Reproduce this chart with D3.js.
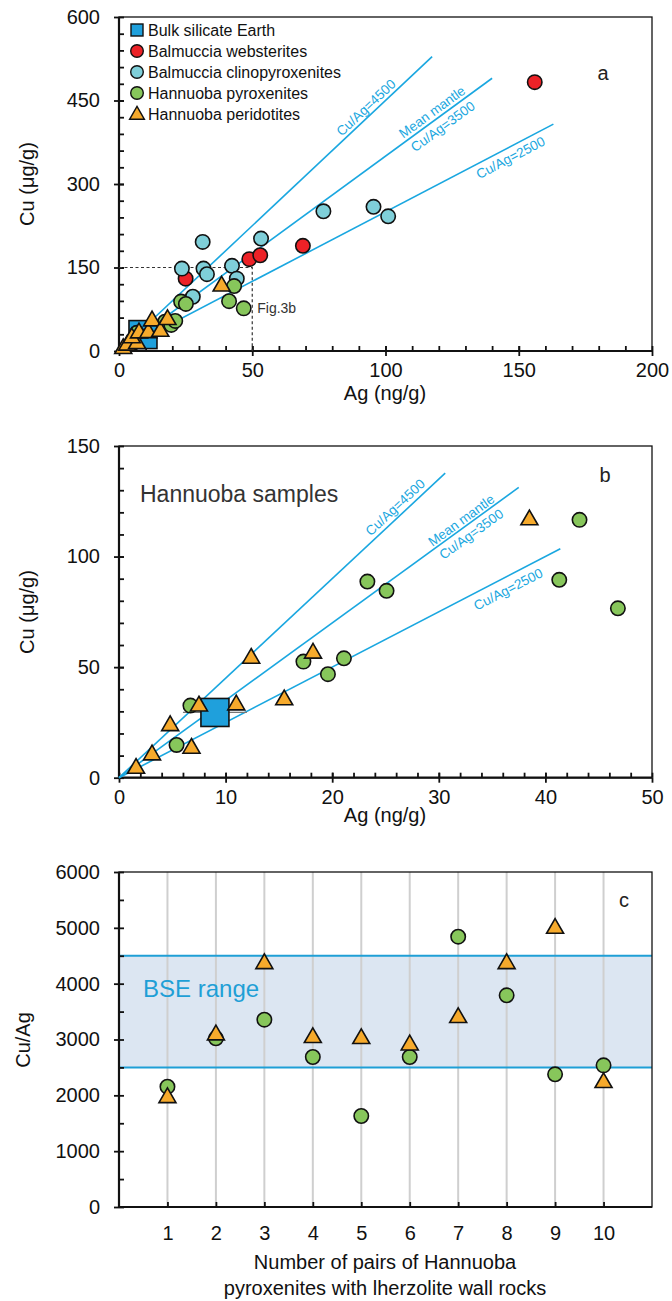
<!DOCTYPE html>
<html>
<head>
<meta charset="utf-8">
<script src="https://cdn.jsdelivr.net/npm/d3@7"></script>
<style>
  body { margin: 0; background: #fff; }
  svg { display: block; font-family: "Liberation Sans", Arial, Helvetica, sans-serif; }
</style>
</head>
<body>
<div id="chart"></div>
<script>
// ---- data (Ag in ng/g, Cu in ug/g) ----
const bulkSilicateEarth = [[9.0, 29.5]];
const bseAgError = [6.0, 12.0];
const balmucciaWebsterites = [[156, 483], [69, 189], [25, 130], [48.9, 165], [53, 172]];
const balmucciaClinopyroxenites = [
  [76.7, 251], [95.5, 259], [101, 242], [31.4, 196], [53.3, 202], [23.6, 148],
  [31.7, 148], [33, 138], [42.4, 153], [44.2, 130], [27.7, 97.5]
];
const hannuobaPyroxenites = [
  [5.4, 14.8], [6.7, 32.6], [17.3, 52.5], [19.6, 46.8], [21.1, 54],
  [23.3, 88.7], [25.1, 84.5], [41.3, 89.5], [43.2, 116.6], [46.8, 76.6]
];
const hannuobaPeridotites = [
  [1.6, 4.2], [3.1, 10.3], [6.8, 13.3], [4.8, 23.5], [7.5, 32.4],
  [11.0, 32.9], [12.4, 54], [15.5, 35.2], [18.2, 56.3], [38.5, 116.6]
];
const ratios = [4500, 3500, 2500];
const lineEndsA = [117.5, 140, 163];
const lineEndsB = [30.6, 37.5, 41.4];

// panel c: Cu/Ag for pairs
const pairs = [1, 2, 3, 4, 5, 6, 7, 8, 9, 10];
const pairPyroxenite = [2155, 3021, 3355, 2687, 1630, 2687, 4842, 3791, 2376, 2537];
const pairPeridotite = [1958, 3081, 4358, 3033, 3015, 2901, 3391, 4358, 4991, 2227];
const bseRange = [2500, 4500];

const legendItems = [
  ["Bulk silicate Earth", "square", "#1fa0dc"],
  ["Balmuccia websterites", "circle", "#ec2227"],
  ["Balmuccia clinopyroxenites", "circle", "#7fcfd9"],
  ["Hannuoba pyroxenites", "circle", "#87c65b"],
  ["Hannuoba peridotites", "triangle", "#f6aa2c"]
];

// ---- setup ----
const W = 672, H = 1301;
const ink = "#111";
const lineBlue = "#1aa7e0";
const col = { bse: "#1fa0dc", web: "#ec2227", cpx: "#7fcfd9", pyx: "#87c65b", per: "#f6aa2c" };

const svg = d3.select("#chart").append("svg")
  .attr("width", W)
  .attr("height", H);

svg.append("rect").attr("width", W).attr("height", H).attr("fill", "#fff");

// draws axes with crossing major ticks and inner minor ticks
function drawAxes(g, x, y, o) {
  const [x0, x1] = x.range();
  const [y0, y1] = y.range();

  // frame
  g.append("rect")
    .attr("x", x0).attr("y", y1)
    .attr("width", x1 - x0).attr("height", y0 - y1)
    .attr("fill", "none").attr("stroke", ink).attr("stroke-width", 1.3);

  // y labels + outward major ticks
  const gy = g.append("g").attr("transform", `translate(${x0},0)`)
    .call(d3.axisLeft(y).tickValues(o.yMajor).tickSize(5).tickPadding(14).tickFormat(d3.format("d")));
  // inward ticks
  g.append("g").attr("transform", `translate(${x0},0)`)
    .call(d3.axisRight(y).tickValues(o.yMajor.concat(o.yMinor)).tickSize(5).tickFormat(""));

  const gx = g.append("g").attr("transform", `translate(0,${y0})`)
    .call(d3.axisBottom(x).tickValues(o.xMajor).tickSize(o.xOut).tickPadding(o.xPad).tickFormat(d3.format("d")));
  g.append("g").attr("transform", `translate(0,${y0})`)
    .call(d3.axisTop(x).tickValues(o.xMajor.concat(o.xMinor)).tickSize(5).tickFormat(""));

  g.selectAll(".domain").remove();
  g.selectAll(".tick line").attr("stroke", ink).attr("stroke-width", 1.8);
  [gy, gx].forEach(a => a.selectAll("text")
    .attr("font-size", 20).attr("fill", ink)
    .attr("font-family", '"Liberation Sans", Arial, sans-serif'));

  // main axis lines
  g.append("line").attr("x1", x0).attr("x2", x0).attr("y1", y0).attr("y2", y1)
    .attr("stroke", ink).attr("stroke-width", 2.2);
  g.append("line").attr("x1", x0).attr("x2", x1).attr("y1", y0).attr("y2", y0)
    .attr("stroke", ink).attr("stroke-width", 2.2);
}

function yTitle(text, cx, cy) {
  svg.append("text")
    .attr("transform", `translate(${cx},${cy}) rotate(-90)`)
    .attr("text-anchor", "middle").attr("dominant-baseline", "central")
    .attr("font-size", 20).attr("fill", ink).text(text);
}
function xTitle(text, cx, cy) {
  svg.append("text").attr("x", cx).attr("y", cy)
    .attr("text-anchor", "middle").attr("dominant-baseline", "central")
    .attr("font-size", 20).attr("fill", ink).text(text);
}
function panelLetter(t, px, py) {
  svg.append("text").attr("x", px).attr("y", py)
    .attr("text-anchor", "middle").attr("dominant-baseline", "central")
    .attr("font-size", 20).attr("fill", "#222").text(t);
}

const tri = d3.symbol().type(d3.symbolTriangle);

function circles(g, data, x, y, fill, r = 7.2) {
  g.append("g").selectAll("circle").data(data).join("circle")
    .attr("cx", d => x(d[0])).attr("cy", d => y(d[1])).attr("r", r)
    .attr("fill", fill).attr("stroke", ink).attr("stroke-width", 1.6);
}
function triangles(g, data, x, y, fill, size = 125) {
  g.append("g").selectAll("path").data(data).join("path")
    .attr("d", tri.size(size)())
    .attr("transform", d => `translate(${x(d[0])},${y(d[1])})`)
    .attr("fill", fill).attr("stroke", ink).attr("stroke-width", 1.6)
    .attr("stroke-linejoin", "miter");
}
function squares(g, data, x, y, fill, s = 28) {
  g.append("g").selectAll("rect").data(data).join("rect")
    .attr("x", d => x(d[0]) - s / 2).attr("y", d => y(d[1]) - s / 2)
    .attr("width", s).attr("height", s)
    .attr("fill", fill).attr("stroke", ink).attr("stroke-width", 1.6);
}

function ratioLines(g, x, y, ends) {
  ratios.forEach((r, i) => {
    g.append("line")
      .attr("x1", x(0)).attr("y1", y(0))
      .attr("x2", x(ends[i])).attr("y2", y(r * ends[i] / 1000))
      .attr("stroke", lineBlue).attr("stroke-width", 1.6);
  });
}
function ratioLabel(g, x, y, r, ag, lines) {
  const px = x(ag), py = y(r * ag / 1000);
  const ang = Math.atan2(y(r * ag / 1000) - y(0), x(ag) - x(0)) * 180 / Math.PI;
  lines.forEach(([txt, off]) => {
    g.append("text")
      .attr("transform", `translate(${px},${py}) rotate(${ang})`)
      .attr("y", off)
      .attr("text-anchor", "middle").attr("dominant-baseline", "central")
      .attr("font-size", 13.5).attr("fill", lineBlue).text(txt);
  });
}

function bseErrorBar(g, x, y) {
  g.append("line")
    .attr("x1", x(bseAgError[0])).attr("x2", x(bseAgError[1]))
    .attr("y1", y(bulkSilicateEarth[0][1])).attr("y2", y(bulkSilicateEarth[0][1]))
    .attr("stroke", "#777").attr("stroke-width", 1.2);
}

// ================= panel a =================
const xa = d3.scaleLinear().domain([0, 200]).range([119, 652]);
const ya = d3.scaleLinear().domain([0, 600]).range([351, 17]);
const ga = svg.append("g");

drawAxes(ga, xa, ya, {
  yMajor: [0, 150, 300, 450, 600], yMinor: d3.range(30, 600, 30),
  xMajor: [0, 50, 100, 150, 200], xMinor: d3.range(10, 200, 10),
  xOut: 5, xPad: 7
});

// Fig.3b box
ga.append("path")
  .attr("d", `M${xa(0)},${ya(150)}H${xa(50)}V${ya(0)}`)
  .attr("fill", "none").attr("stroke", "#333").attr("stroke-width", 1.2)
  .attr("stroke-dasharray", "3,2.5");
ga.append("text").attr("x", xa(50) + 5).attr("y", 308)
  .attr("dominant-baseline", "central").attr("font-size", 14).attr("fill", "#333").text("Fig.3b");

ratioLines(ga, xa, ya, lineEndsA);
ratioLabel(ga, xa, ya, 4500, 94.8, [["Cu/Ag=4500", -8]]);
ratioLabel(ga, xa, ya, 3500, 119.3, [["Mean mantle", -8], ["Cu/Ag=3500", 10]]);
ratioLabel(ga, xa, ya, 2500, 145.2, [["Cu/Ag=2500", 10]]);

bseErrorBar(ga, xa, ya);
squares(ga, bulkSilicateEarth, xa, ya, col.bse);
circles(ga, balmucciaWebsterites, xa, ya, col.web);
circles(ga, balmucciaClinopyroxenites, xa, ya, col.cpx);
circles(ga, hannuobaPyroxenites, xa, ya, col.pyx);
triangles(ga, hannuobaPeridotites, xa, ya, col.per);

// legend
const lg = ga.append("g");
legendItems.forEach(([label, shape, fill], i) => {
  const cy = 30 + i * 21, cx = 137;
  if (shape === "square") {
    lg.append("rect").attr("x", cx - 6).attr("y", cy - 6).attr("width", 12).attr("height", 12)
      .attr("fill", fill).attr("stroke", ink).attr("stroke-width", 1.4);
  } else if (shape === "circle") {
    lg.append("circle").attr("cx", cx).attr("cy", cy).attr("r", 6.3)
      .attr("fill", fill).attr("stroke", ink).attr("stroke-width", 1.4);
  } else {
    lg.append("path").attr("d", tri.size(95)()).attr("transform", `translate(${cx},${cy + 1})`)
      .attr("fill", fill).attr("stroke", ink).attr("stroke-width", 1.4);
  }
  lg.append("text").attr("x", 148).attr("y", cy)
    .attr("dominant-baseline", "central").attr("font-size", 16).attr("fill", ink).text(label);
});

panelLetter("a", 603, 73);
xTitle("Ag (ng/g)", 385, 393);
yTitle("Cu (\u03bcg/g)", 27, 184);

// ================= panel b =================
const xb = d3.scaleLinear().domain([0, 50]).range([119, 652]);
const yb = d3.scaleLinear().domain([0, 150]).range([777.7, 446]);
const gb = svg.append("g");

drawAxes(gb, xb, yb, {
  yMajor: [0, 50, 100, 150], yMinor: d3.range(10, 150, 10),
  xMajor: [0, 10, 20, 30, 40, 50], xMinor: d3.range(2, 50, 2),
  xOut: 5, xPad: 7
});

gb.append("text").attr("x", 140).attr("y", 494)
  .attr("dominant-baseline", "central").attr("font-size", 23).attr("fill", "#333").text("Hannuoba samples");

ratioLines(gb, xb, yb, lineEndsB);
ratioLabel(gb, xb, yb, 4500, 26.5, [["Cu/Ag=4500", -9]]);
ratioLabel(gb, xb, yb, 3500, 32.5, [["Mean mantle", -7], ["Cu/Ag=3500", 10]]);
ratioLabel(gb, xb, yb, 2500, 36, [["Cu/Ag=2500", 12]]);

bseErrorBar(gb, xb, yb);
circles(gb, hannuobaPyroxenites, xb, yb, col.pyx);
squares(gb, bulkSilicateEarth, xb, yb, col.bse);
triangles(gb, hannuobaPeridotites, xb, yb, col.per);

panelLetter("b", 605, 475);
xTitle("Ag (ng/g)", 385, 815);
yTitle("Cu (\u03bcg/g)", 27, 612);

// ================= panel c =================
const xc = d3.scaleLinear().domain([0, 11]).range([119, 652]);
const yc = d3.scaleLinear().domain([0, 6000]).range([1207, 872]);
const gc = svg.append("g");

// BSE band
gc.append("rect")
  .attr("x", xc(0)).attr("y", yc(bseRange[1]))
  .attr("width", xc(11) - xc(0)).attr("height", yc(bseRange[0]) - yc(bseRange[1]))
  .attr("fill", "#dce6f2");
// grid
gc.append("g").selectAll("line").data(pairs).join("line")
  .attr("x1", d => xc(d)).attr("x2", d => xc(d))
  .attr("y1", yc(6000)).attr("y2", yc(0))
  .attr("stroke", "#cfcfcf").attr("stroke-width", 2);
gc.append("g").selectAll("line").data(bseRange).join("line")
  .attr("x1", xc(0)).attr("x2", xc(11))
  .attr("y1", d => yc(d)).attr("y2", d => yc(d))
  .attr("stroke", "#1f9fd6").attr("stroke-width", 2);

drawAxes(gc, xc, yc, {
  yMajor: d3.range(0, 6001, 1000), yMinor: d3.range(500, 6000, 1000),
  xMajor: pairs, xMinor: [],
  xOut: 0, xPad: 19
});

gc.append("text").attr("x", 143).attr("y", 988)
  .attr("dominant-baseline", "central").attr("font-size", 24).attr("fill", "#1f9fd6").text("BSE range");

circles(gc, pairs.map((p, i) => [p, pairPyroxenite[i]]), xc, yc, col.pyx);
triangles(gc, pairs.map((p, i) => [p, pairPeridotite[i]]), xc, yc, col.per);

panelLetter("c", 624, 900);
xTitle("Number of pairs of Hannuoba", 385, 1262);
xTitle("pyroxenites with lherzolite wall rocks", 385, 1288);
yTitle("Cu/Ag", 23, 1040);
</script>
</body>
</html>
